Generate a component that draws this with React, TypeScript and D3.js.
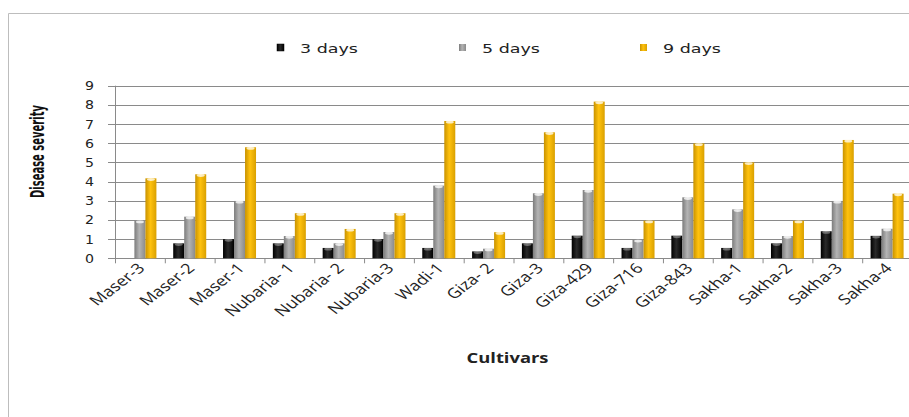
import React from "react";
import * as d3 from "d3";

const categories = ["Maser-3","Maser-2","Maser-1","Nubaria- 1","Nubaria- 2","Nubaria-3","Wadi-1","Giza- 2","Giza-3","Giza-429","Giza-716","Giza-843","Sakha-1","Sakha-2","Sakha-3","Sakha-4"];
const seriesNames = ["3 days", "5 days", "9 days"];
const days3 = [0, 0.78, 1.0, 0.78, 0.54, 1.0, 0.54, 0.36, 0.78, 1.18, 0.54, 1.18, 0.54, 0.78, 1.41, 1.17];
const days5 = [1.96, 2.17, 2.99, 1.16, 0.78, 1.37, 3.79, 0.5, 3.39, 3.56, 0.96, 3.18, 2.55, 1.16, 2.99, 1.54];
const days9 = [4.17, 4.38, 5.79, 2.35, 1.53, 2.35, 7.16, 1.36, 6.57, 8.17, 1.96, 5.99, 5.0, 1.96, 6.17, 3.37];
const yTicks = [0, 1, 2, 3, 4, 5, 6, 7, 8, 9];

const W = 909, H = 417;
const left = 115, right = 912, top = 85.7, bottom = 258.3;

const grads = [
  { id: "gBlack", stops: ["#000", "#2a2a2a", "#000"] },
  { id: "gGray", stops: ["#7c7c7c", "#b4b4b4", "#8a8a8a"] },
  { id: "gGold", stops: ["#c89200", "#ffc20e", "#d9a000"] },
];

export default function App() {
  const series = [days3, days5, days9];
  const x0 = d3.scaleBand<string>().domain(categories).range([left, right]).padding(0);
  const bw = x0.bandwidth();
  const groupW = 33;
  const x1 = d3.scaleBand<string>().domain(seriesNames).range([(bw - groupW) / 2, (bw + groupW) / 2]);
  const y = d3.scaleLinear().domain([0, 9]).range([bottom, top]);
  const barW = x1.bandwidth();

  const legendX = [277, 459, 640];

  return (
    <svg width={W} height={H} style={{ position: "absolute", left: 0, top: 0, background: "#fff" }}
      fontFamily="'DejaVu Sans', sans-serif">
      <defs>
        {grads.map((g) => (
          <linearGradient key={g.id} id={g.id} x1="0" x2="1" y1="0" y2="0">
            <stop offset="0%" stopColor={g.stops[0]} />
            <stop offset="45%" stopColor={g.stops[1]} />
            <stop offset="100%" stopColor={g.stops[2]} />
          </linearGradient>
        ))}
      </defs>
      <rect x={0} y={0} width={W} height={H} fill="#fff" />
      {/* outer frame */}
      <line x1={8.5} x2={8.5} y1={13.5} y2={H} stroke="#bdbdbd" />
      <line x1={8.5} x2={W} y1={13.5} y2={13.5} stroke="#bdbdbd" />

      {/* gridlines */}
      {yTicks.filter((t) => t > 0).map((t) => (
        <line key={"g" + t} x1={left} x2={right} y1={Math.round(y(t)) + 0.5} y2={Math.round(y(t)) + 0.5} stroke="#8a8a8a" strokeWidth={1} />
      ))}
      {/* y ticks and labels */}
      {yTicks.map((t) => (
        <g key={"t" + t}>
          <line x1={108} x2={left} y1={Math.round(y(t)) + 0.5} y2={Math.round(y(t)) + 0.5} stroke="#8a8a8a" />
          <text x={94} y={y(t) + 4.5} textAnchor="end" fontSize={12} textLength={9} lengthAdjust="spacingAndGlyphs" fill="#222">{t}</text>
        </g>
      ))}
      {/* axes */}
      <line x1={left + 0.5} x2={left + 0.5} y1={top} y2={bottom} stroke="#8a8a8a" />
      <line x1={left} x2={right} y1={Math.round(bottom) + 0.5} y2={Math.round(bottom) + 0.5} stroke="#8a8a8a" />
      {categories.map((c, i) => (
        <line key={"xt" + i} x1={x0(c)! + 0.5} x2={x0(c)! + 0.5} y1={bottom} y2={bottom + 5} stroke="#8a8a8a" />
      ))}
      <line x1={right} x2={right} y1={bottom} y2={bottom + 5} stroke="#8a8a8a" />

      {/* bars */}
      {categories.map((c, i) => (
        <g key={"bar" + i} transform={`translate(${x0(c)},0)`}>
          {seriesNames.map((s, k) => {
            const v = series[k][i];
            if (v <= 0) return null;
            const bx = x1(s)!;
            const by = y(v);
            const h = bottom - by;
            return (
              <g key={s}>
                <rect x={bx} y={by} width={barW} height={h} fill={`url(#${grads[k].id})`} />
                <ellipse cx={bx + barW / 2} cy={by + 1.2} rx={barW / 2 - 1.5} ry={1.4} fill="#fff" opacity={k === 0 ? 0.35 : 0.75} />
              </g>
            );
          })}
        </g>
      ))}

      {/* x labels */}
      {categories.map((c, i) => {
        const cx = x0(c)! + bw / 2 + 6;
        return (
          <text key={"xl" + i} transform={`translate(${cx},269) scale(1.3,1) rotate(-45)`} textAnchor="end"
            fontFamily="'Open Sans', sans-serif" fontSize={14} fill="#222">{c}</text>
        );
      })}

      {/* legend */}
      {seriesNames.map((s, k) => (
        <g key={"lg" + k}>
          <rect x={legendX[k]} y={44} width={7} height={7} fill={`url(#${grads[k].id})`} stroke={k === 0 ? "#000" : "none"} strokeWidth={0.5} />
          <text x={legendX[k] + 23} y={52.5} fontSize={12.5} textLength={58} lengthAdjust="spacingAndGlyphs" fill="#222">{s}</text>
        </g>
      ))}

      {/* axis titles */}
      <text x={507.5} y={362.5} textAnchor="middle" fontFamily="'Open Sans', sans-serif" fontWeight="bold" fontSize={13.5}
        textLength={82} lengthAdjust="spacingAndGlyphs" fill="#222">Cultivars</text>
      <text transform="translate(44,151.5) scale(1.6,1) rotate(-90)" textAnchor="middle" fontFamily="'DejaVu Sans Condensed', 'Liberation Sans Narrow', 'DejaVu Sans', sans-serif"
        fontWeight="bold" fontSize={12} textLength={93} lengthAdjust="spacingAndGlyphs" fill="#111">Disease severity</text>
    </svg>
  );
}
